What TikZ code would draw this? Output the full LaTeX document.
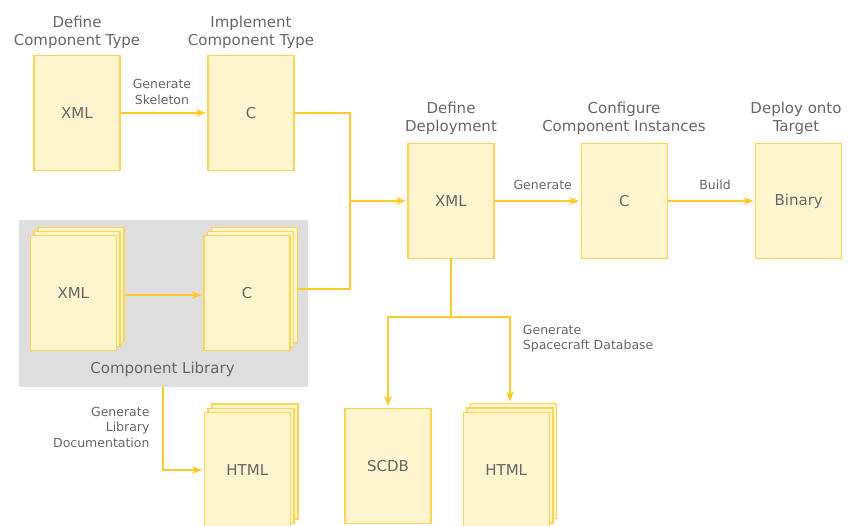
\documentclass[tikz,border=0pt]{standalone}
\usepackage{fontspec}
\setmainfont{DejaVu Sans}
\usetikzlibrary{arrows.meta,shadows,calc}
\definecolor{boxfill}{HTML}{FEF5CF}
\definecolor{boxline}{HTML}{FFD452}
\definecolor{flowline}{HTML}{FFC929}
\definecolor{ink}{HTML}{666666}
\definecolor{libgray}{HTML}{DEDEDE}

\begin{document}
\begin{tikzpicture}[x=1pt,y=-1pt,
  doc/.style={draw=boxline, fill=boxfill, line width=1.3pt,
    minimum width=86pt, minimum height=115pt, inner sep=0pt,
    text=ink, font=\fontsize{15}{18}\selectfont},
  docstack/.style={doc, double copy shadow={shadow xshift=3.8pt,
    shadow yshift=4.3pt, draw=boxline, fill=boxfill, line width=1.3pt}},
  heading/.style={text=ink, inner sep=0pt, align=center, anchor=base,
    font=\fontsize{15}{18}\selectfont},
  note/.style={text=ink, inner sep=0pt, anchor=base,
    font=\fontsize{12.5}{15.5}\selectfont},
  flow/.style={draw=flowline, line width=1.9pt},
  arr/.style={-{Stealth[length=10pt,width=7.5pt,inset=3pt]}, shorten >=1.5pt}]

\useasboundingbox (0,0) rectangle (859,526);
\clip (0,0) rectangle (859,526);

% component library panel
\fill[libgray] (19,220) rectangle (307.7,387.3);
\node[heading] (libname) at (162.5,373.5) {Component Library};

% documents
\node[doc] (ctype) at (77,113) {XML};
\node[doc] (cimpl) at (251,113) {C};
\node[docstack] (libxml) at (73.3,293.3) {XML};
\node[docstack] (libc) at (247,293.3) {C};
\node[doc] (depl) at (451,201) {XML};
\node[doc] (inst) at (624.3,201) {C};
\node[doc] (bin) at (798.7,201) {Binary};
\node[doc] (scdb) at (388,465.7) {SCDB};
\node[docstack] (dbhtml) at (506.2,469.8) {HTML};
\node[docstack] (libhtml) at (247.3,470) {HTML};

% stage headings (anchored on the baseline of their last line)
\node[heading] (h1) at (77,45.5) {Define\\Component Type};
\node[heading] (h2) at (251,45.5) {Implement\\Component Type};
\node[heading] (h3) at (451,131.5) {Define\\Deployment};
\node[heading] (h4) at (624,131.5) {Configure\\Component Instances};
\node[heading] (h5) at (796,131.5) {Deploy onto\\Target};

% type definition to implementation
\draw[flow,arr] (ctype) -- (cimpl);
\node[note, align=center] (lskel) at (162,104.5) {Generate\\Skeleton};

% library internal flow
\draw[flow,arr] ($(libxml.east)+(7.6,1.7)$) -- ($(libc.west)+(0,1.7)$);

% merge into deployment
\coordinate (join) at (350,201);
\draw[flow] (cimpl.east) -| (join);
\draw[flow] ($(libc.east)+(7.6,-4.3)$) -| (join);
\draw[flow,arr] (join) -- (depl.west);

% deployment pipeline
\draw[flow,arr] (depl) -- (inst);
\node[note] (lgen) at (542.7,190) {Generate};
\draw[flow,arr] (inst) -- (bin);
\node[note] (lbuild) at (715,189.5) {Build};

% spacecraft database outputs
\coordinate (split) at (451,317);
\draw[flow] (depl.south) -- (split);
\draw[flow,arr] (split) -| (scdb.north);
\draw[flow,arr] (split) -| ($(dbhtml.north)+(3.8,-8.6)$);
\node[note, align=left, anchor=base west] (ldb) at (522.7,349.5) {Generate\\Spacecraft Database};

% library documentation
\coordinate (libout) at (163,387.3);
\draw[flow,arr] (libout) |- (libhtml.west);
\node[note, align=right, anchor=base east] (ldoc) at (149.7,447) {Generate\\Library\\Documentation};

\end{tikzpicture}
\end{document}
